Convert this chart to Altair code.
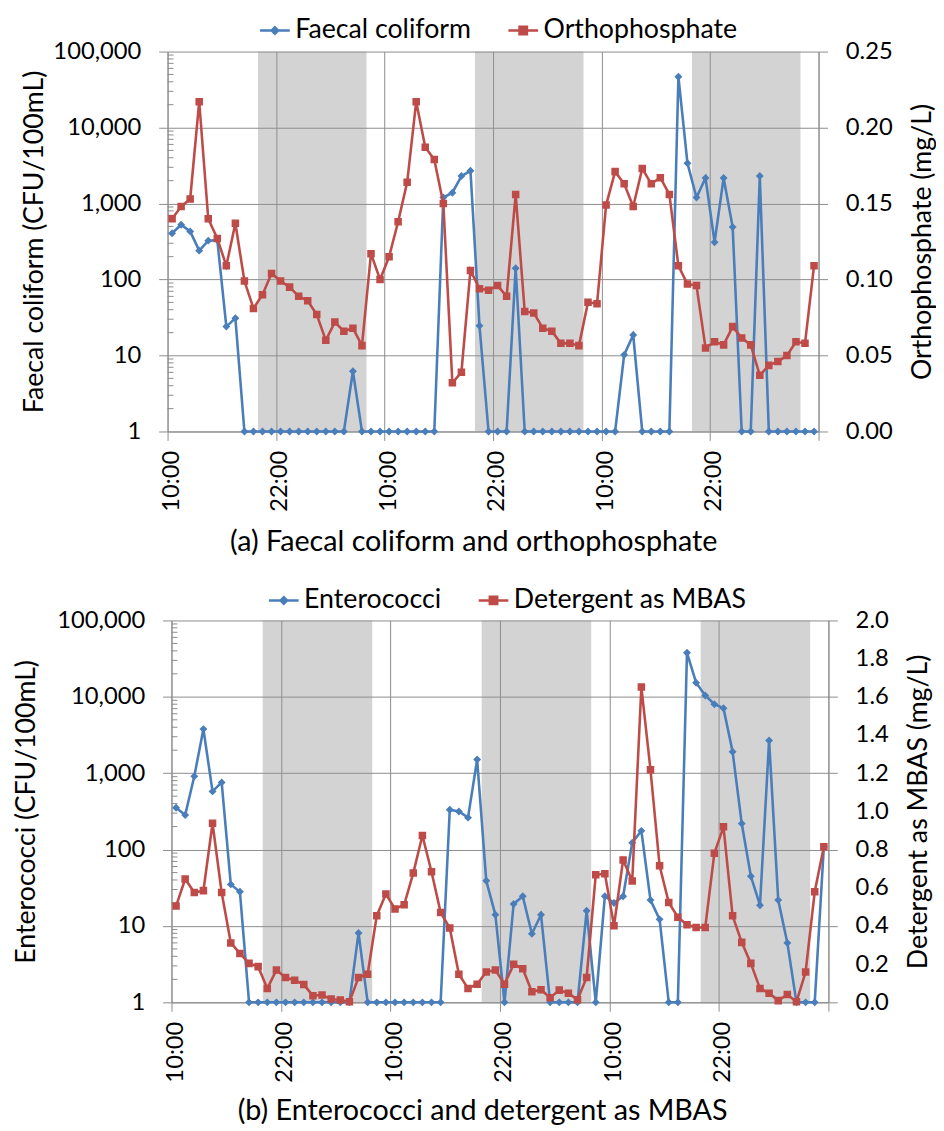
import altair as alt
import pandas as pd

# ---------------- data ----------------
hours = [h + 0.5 for h in range(72)]          # hourly samples, first at 10:00
tick_hours = [0, 12, 24, 36, 48, 60, 72]
tick_labels = ["10:00", "22:00", "10:00", "22:00", "10:00", "22:00", ""]
night_start = [10, 34, 58]                     # 20:00
night_end = [22, 46, 70]                       # 08:00
log_ticks = [1, 10, 100, 1000, 10000, 100000]
minor_ticks = [m * d for d in [1, 10, 100, 1000, 10000] for m in range(2, 10)]

faecal = [407, 526, 430, 240, 325, 330, 24, 31,
          1, 1, 1, 1, 1, 1, 1, 1, 1, 1, 1, 1,
          6.2,
          1, 1, 1, 1, 1, 1, 1, 1, 1,
          1200, 1390, 2300, 2700, 24.6,
          1, 1, 1,
          141,
          1, 1, 1, 1, 1, 1, 1, 1, 1, 1, 1,
          10.2, 18.6,
          1, 1, 1, 1,
          46700, 3400, 1200, 2170, 310, 2170, 490,
          1, 1,
          2300,
          1, 1, 1, 1, 1, 1]

ortho = [0.140, 0.148, 0.153, 0.217, 0.140, 0.127, 0.109, 0.137, 0.099, 0.081,
         0.090, 0.104, 0.099, 0.095, 0.089, 0.086, 0.077, 0.060, 0.072, 0.066,
         0.068, 0.0565, 0.117, 0.100, 0.115, 0.138, 0.164, 0.217, 0.187, 0.179,
         0.150, 0.032, 0.039, 0.106, 0.094, 0.093, 0.096, 0.089, 0.156, 0.079,
         0.078, 0.068, 0.066, 0.058, 0.058, 0.0565, 0.085, 0.084, 0.149, 0.171,
         0.163, 0.148, 0.173, 0.163, 0.167, 0.156, 0.109, 0.097, 0.096, 0.055,
         0.059, 0.057, 0.069, 0.0615, 0.057, 0.037, 0.0435, 0.046, 0.050, 0.059,
         0.058, 0.109]

entero = [353, 284, 910, 3780, 578, 758, 35, 28,
          1, 1, 1, 1, 1, 1, 1, 1, 1, 1, 1, 1,
          8.1,
          1, 1, 1, 1, 1, 1, 1, 1, 1,
          332, 315, 262, 1510, 39, 14, 1, 19.4, 24.5, 7.9, 14,
          1, 1, 1, 1,
          15.8, 1, 24.5, 20, 24.5, 123, 176, 21.8, 12.2,
          1, 1,
          37700, 15300, 10400, 7990, 7100, 1910, 219, 44.7, 18.7, 2680, 21.8, 6.0,
          1, 1, 1,
          109]

mbas = [0.504, 0.646, 0.575, 0.585, 0.938, 0.575, 0.311, 0.256, 0.204, 0.187,
        0.073, 0.169, 0.130, 0.116, 0.093, 0.035, 0.038, 0.017, 0.012, 0.003,
        0.130, 0.147, 0.454, 0.567, 0.489, 0.511, 0.677, 0.874, 0.684, 0.470,
        0.389, 0.147, 0.073, 0.095, 0.159, 0.169, 0.095, 0.199, 0.176, 0.055,
        0.066, 0.024, 0.064, 0.048, 0.014, 0.130, 0.668, 0.674, 0.401, 0.746,
        0.636, 1.651, 1.218, 0.715, 0.523, 0.446, 0.406, 0.392, 0.392, 0.781,
        0.919, 0.453, 0.314, 0.204, 0.073, 0.048, 0.009, 0.041, 0.003, 0.159,
        0.579, 0.815]

ortho_ticks = [0.0, 0.05, 0.10, 0.15, 0.20, 0.25]
mbas_ticks = [0.0, 0.2, 0.4, 0.6, 0.8, 1.0, 1.2, 1.4, 1.6, 1.8, 2.0]

# ---------------- style ----------------
FONT = "Lato"
BLUE = "#4a7ebb"
RED = "#be4b48"
GRID = "#8c8c8c"
BAND = "#919191"
DIAMOND = "M-1,0L1,0M0,-0.22L0.22,0L0,0.22L-0.22,0Z"
SQUARE = "M-1,0L1,0M-0.25,-0.25L0.25,-0.25L0.25,0.25L-0.25,0.25Z"

label_expr = ""
for hv, lab in zip(tick_hours, tick_labels):
    label_expr += f"datum.value == {hv} ? '{lab}' : "
label_expr += "''"


def panel(left_name, left_vals, right_name, right_vals, right_ticks, right_fmt,
          left_title, right_title, caption, w, h, legend_x, legend_y,
          cap_x, cap_y, left_title_pad, right_title_pad, right_tick_opacity):
    left_df = pd.DataFrame({"t": hours, "v": left_vals, "s": left_name})
    right_df = pd.DataFrame({"t": hours, "v": right_vals, "s": right_name})
    bands = pd.DataFrame({"a": night_start, "b": night_end,
                          "lo": log_ticks[0], "hi": log_ticks[-1]})
    minor = pd.DataFrame({"v": minor_ticks})

    x_scale = alt.Scale(domain=[0, 72], nice=False, zero=False)
    x_axis = alt.Axis(values=tick_hours, labelExpr=label_expr, labelAngle=270,
                      labelFont=FONT, labelFontSize=24, labelColor="black",
                      labelPadding=10, labelOffset=4, tickSize=9, tickColor=GRID,
                      domainColor=GRID, grid=True, gridColor=GRID,
                      title=caption, titleFont=FONT, titleFontSize=29,
                      titleFontWeight="normal", titleColor="black",
                      titleX=cap_x, titleY=cap_y, titleAlign="center",
                      titleBaseline="alphabetic", titleLimit=0)
    ly_scale = alt.Scale(type="log", domain=[log_ticks[0], log_ticks[-1]], nice=False)
    ly_axis = alt.Axis(values=log_ticks, format=",", labelFont=FONT, labelFontSize=24,
                       labelColor="black", labelPadding=18, tickSize=9, tickColor=GRID,
                       domainColor=GRID, grid=True, gridColor=GRID,
                       title=left_title, titleFont=FONT, titleFontSize=27,
                       titleFontWeight="normal", titleColor="black",
                       titlePadding=left_title_pad, titleLimit=0)
    ry_scale = alt.Scale(domain=[right_ticks[0], right_ticks[-1]], nice=False, zero=True)
    ry_axis = alt.Axis(orient="right", values=right_ticks, format=right_fmt,
                       labelFont=FONT, labelFontSize=24, labelColor="black",
                       labelPadding=18, tickSize=9, tickColor=GRID,
                       tickOpacity=right_tick_opacity,
                       domainColor=GRID, grid=False,
                       title=right_title, titleFont=FONT, titleFontSize=27,
                       titleFontWeight="normal", titleColor="black",
                       titleAngle=270, titleBaseline="top",
                       titlePadding=right_title_pad, titleLimit=0)

    legend = alt.Legend(
        title=None, orient="none", direction="horizontal",
        legendX=legend_x, legendY=legend_y,
        labelFont=FONT, labelFontSize=27, labelColor="black", labelLimit=0,
        symbolSize=900, symbolStrokeWidth=2.5, labelOffset=4, columnPadding=32)
    dom = [left_name, right_name]
    fill = alt.Fill("s:N", scale=alt.Scale(domain=dom, range=[BLUE, RED]), legend=legend)
    stroke = alt.Stroke("s:N", scale=alt.Scale(domain=dom, range=[BLUE, RED]), legend=legend)
    shape = alt.Shape("s:N", scale=alt.Scale(domain=dom, range=[DIAMOND, SQUARE]), legend=legend)

    band_layer = alt.Chart(bands).mark_rect(color=BAND, opacity=0.4).encode(
        x=alt.X("a:Q", scale=x_scale, axis=x_axis), x2="b:Q",
        y=alt.Y("lo:Q", scale=ly_scale, axis=ly_axis), y2="hi:Q")
    minor_layer = alt.Chart(minor).mark_rule(color=GRID, strokeWidth=1).encode(
        y=alt.Y("v:Q", scale=ly_scale, axis=ly_axis),
        x=alt.value(0), x2=alt.value(6))
    blue_line = alt.Chart(left_df).mark_line(color=BLUE, strokeWidth=2.6).encode(
        x=alt.X("t:Q", scale=x_scale, axis=x_axis),
        y=alt.Y("v:Q", scale=ly_scale, axis=ly_axis))
    blue_pts = alt.Chart(left_df).mark_point(filled=True, size=1320, opacity=1).encode(
        x=alt.X("t:Q", scale=x_scale, axis=x_axis),
        y=alt.Y("v:Q", scale=ly_scale, axis=ly_axis),
        fill=fill, stroke=stroke, shape=shape, strokeWidth=alt.value(0))
    red_line = alt.Chart(right_df).mark_line(color=RED, strokeWidth=2.6).encode(
        x=alt.X("t:Q", scale=x_scale, axis=x_axis),
        y=alt.Y("v:Q", scale=ry_scale, axis=ry_axis))
    red_pts = alt.Chart(right_df).mark_point(filled=True, size=925, opacity=1).encode(
        x=alt.X("t:Q", scale=x_scale, axis=x_axis),
        y=alt.Y("v:Q", scale=ry_scale, axis=ry_axis),
        fill=fill, stroke=stroke, shape=shape, strokeWidth=alt.value(0))

    left = alt.layer(band_layer, minor_layer, blue_line, blue_pts)
    right = alt.layer(red_line, red_pts)
    return alt.layer(left, right).resolve_scale(y="independent").properties(
        width=w, height=h)


top = panel("Faecal coliform", faecal, "Orthophosphate", ortho, ortho_ticks, ".2f",
            "Faecal coliform (CFU/100mL)", "Orthophosphate (mg/L)",
            "(a) Faecal coliform and orthophosphate", 658, 384,
            92, -38, 309, 120, 4, 18, 1)
bottom = panel("Enterococci", entero, "Detergent as MBAS", mbas, mbas_ticks, ".1f",
               "Enterococci (CFU/100mL)", "Detergent as MBAS (mg/L)",
               "(b) Enterococci and detergent as MBAS", 664, 386,
               97, -37, 314, 118, 16, 18,
               {"condition": {"test": "round(datum.value*10) % 4 == 0", "value": 1},
                "value": 0})

chart = alt.vconcat(top, bottom, spacing=28, center=True).resolve_scale(
    fill="independent", stroke="independent", shape="independent").properties(
    padding={"left": 5, "top": 0, "right": 0, "bottom": 0},
    background="white").configure_view(stroke=None)

chart.save("out.html", embed_options={"renderer": "svg", "actions": False})
